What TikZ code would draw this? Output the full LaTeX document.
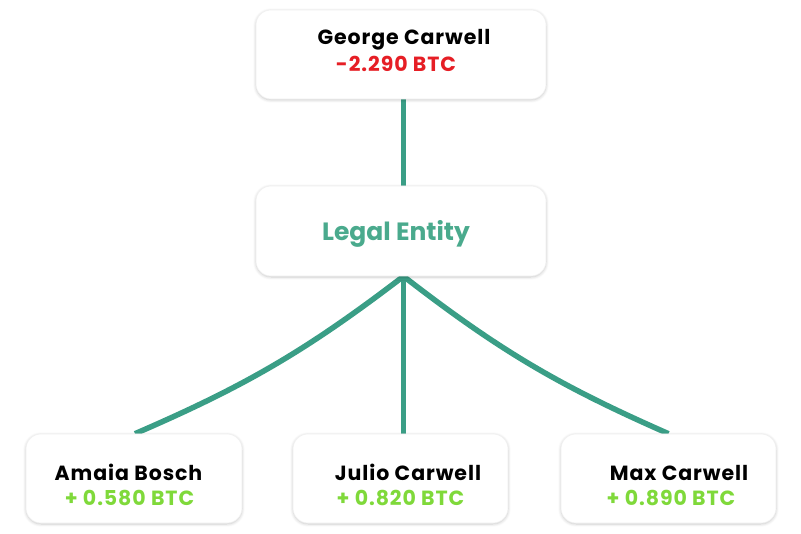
\documentclass[tikz,border=0pt]{standalone}
\usepackage{fontspec}
\setmainfont{Poppins}
\usetikzlibrary{positioning,shadows.blur,backgrounds}
\definecolor{linkgreen}{HTML}{3A9E86}
\definecolor{entitygreen}{HTML}{4AAA8D}
\definecolor{lossred}{HTML}{E61E25}
\definecolor{gainlime}{HTML}{7FD93A}
\tikzset{
	card/.style={draw=black!6, fill=white, rounded corners=15pt, line width=0.6pt,
		blur shadow={shadow blur steps=6, shadow xshift=0pt, shadow yshift=-1pt, shadow opacity=22, shadow blur radius=3pt}},
	who/.style={anchor=base, font=\bfseries\fontsize{20.5}{24}\selectfont\addfontfeature{LetterSpace=4.5}, text=black, inner sep=0pt},
	amount/.style={anchor=base, font=\bfseries\fontsize{20.5}{24}\selectfont\addfontfeature{LetterSpace=4.5}, inner sep=0pt},
	link/.style={draw=linkgreen, line width=5.5pt}
}
\begin{document}
\begin{tikzpicture}[x=1pt,y=-1pt]
			\useasboundingbox (0,0) rectangle (801,534);
			% boxes
			\node[card, minimum width=290pt, minimum height=89pt] (george) at (401,54.5) {};
			\node[card, minimum width=290pt, minimum height=90pt] (entity) at (401,231) {};
			\node[card, minimum width=216pt, minimum height=89pt] (amaia) at (134,478.5) {};
			\node[card, minimum width=215pt, minimum height=89pt] (julio) at (400.5,478.5) {};
			\node[card, minimum width=215pt, minimum height=89pt] (max) at (668.5,478.5) {};
			% texts
			\node[who] (georgename) at (404,45) {George Carwell};
			\node[amount, text=lossred] (georgeamt) at (396,72) {-2.290 BTC};
			\node[anchor=base, inner sep=0pt, text=entitygreen, font=\bfseries\fontsize{25}{30}\selectfont] (entityname) at (396,241) {Legal Entity};
			\node[who] (amaianame) at (128.5,481) {Amaia Bosch};
			\node[amount, text=gainlime] (amaiaamt) at (129.5,506) {+ 0.580 BTC};
			\node[who] (julioname) at (408,481) {Julio Carwell};
			\node[amount, text=gainlime] (julioamt) at (400.5,506) {+ 0.820 BTC};
			\node[who] (maxname) at (679,481) {Max Carwell};
			\node[amount, text=gainlime] (maxamt) at (671,506) {+ 0.890 BTC};
			% connectors
			\begin{scope}[on background layer]
				\draw[link] ([xshift=2.5pt]george.south) -- ([xshift=2.5pt]entity.north);
				\draw[link] ([xshift=2.5pt]entity.south) to[bend left=7] ([xshift=1pt]amaia.north);
				\draw[link] ([xshift=2.5pt]entity.south) -- ([xshift=3pt]julio.north);
				\draw[link] ([xshift=2.5pt]entity.south) to[bend right=7] (max.north);
			\end{scope}
		\end{tikzpicture}
\end{document}
